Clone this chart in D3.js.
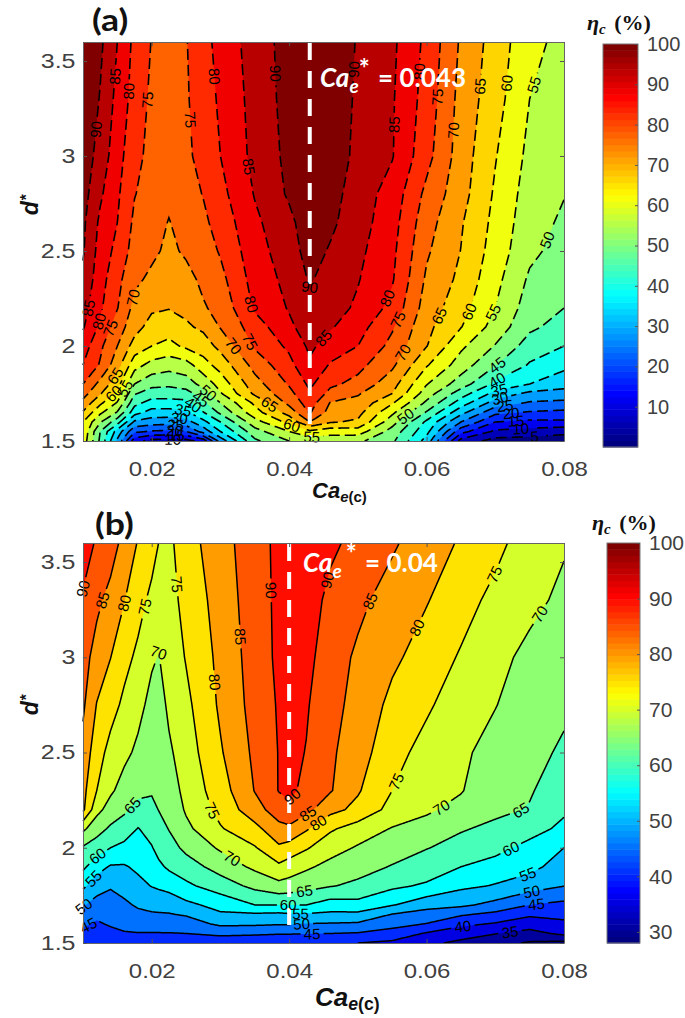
<!DOCTYPE html>
<html>
<head>
<meta charset="utf-8">
<script src="https://cdn.jsdelivr.net/npm/d3@7"></script>
<style>
  body { margin: 0; background: #fff; }
  svg { display: block; }
  text { font-family: "Liberation Sans", Arial, sans-serif; }
</style>
</head>
<body>
<div id="chart"></div>
<script>
// grid of panel (a): one inner array per Ca column, values running up dA
const caA = [.01,.0125,.015,.0175,.02,.0225,.025,.0275,.03,.035,.04,.043,.046,.05,.055,.06,.065,.07,.075,.08];
const dA = [1.5,1.55,1.6,1.65,1.7,1.75,1.8,1.9,2,2.1,2.2,2.35,2.5,2.65,2.8,3,3.3,3.6];
const etaA = [
  [58,59,60,64.5,68.5,72,75,80,82.5,85.5,87,89,90.5,91,92,93,94,95],
  [44,45,50.5,56,61,65.5,68.5,74.5,76,79,80.8,82,83,84,85.8,88,89.7,91],
  [29,33,42,49.5,54.5,58.5,62,67,70,72.5,75.2,76.5,78.5,80,80.8,82,83.5,85],
  [12,21,29,37,41.5,45.5,50,57,63,67,68.5,71,73,74,75.2,76.5,78,78.7],
  [8,19.5,27.5,33,38,42.5,46.6,53.3,60,63,65.8,69,71,72,73,73.5,74,74.8],
  [8,19,27,33,38,42.5,46,52,58.5,62.4,65.2,67,69,69.8,71,71.5,72,72],
  [8,20,28,34,38.5,43,47.5,53,61,64.2,66.3,68.5,70.7,71.8,73,73.8,74.3,74.7],
  [12,27,33.5,39.7,44,47.7,51.7,58,62.5,66,69.5,71,72.5,74,75.2,77,78.2,78.5],
  [27,35,40,46,50,54.5,57,62,66.5,70.3,71.5,73.5,75.5,77,78.5,80,80.6,81.5],
  [44,48,53,58,61,66,68,71.8,75.7,77.5,80.7,82,83,84,85.3,86.4,86.9,87.4],
  [50,55,61.5,67,71.3,73.5,75.5,78.5,81,84,85.4,86.5,87.7,88.7,90.7,91.3,91.8,92],
  [52,59,70,75.5,77.4,79.4,81,84.2,86,87.5,88.6,90.5,92,93,94,95,95,94.5],
  [52,57,65.5,68,69.7,73.5,76,79.5,82.8,85.5,87,88,89.5,91,92,93.5,94,93.5],
  [51,57.5,64.2,66.6,68.5,70.5,73.5,76.5,80,82,84.2,85.3,86.2,87.2,87.5,88.5,89,89.6],
  [46,48,52,56,60.5,65,67,71,73.5,75.6,78.5,80.5,81.2,82,83,85.3,85.5,86],
  [33,36.5,39,44.5,49,52.5,55.3,60.5,65.2,66.3,67.7,69.2,70.7,72,73.7,76.7,78,78.8],
  [8,16.8,25,31.6,37.5,42.4,47.5,52.6,56,60.2,62,63.8,64.9,65.5,66.9,67.6,68.3,69.3],
  [3,9,15,21.3,27.7,33.4,39,45.3,49.7,53,55,56.5,57.8,58.6,59.3,60.3,62,62.8],
  [2.5,8,13.8,19.5,24.4,28.8,35,39.5,42.7,46,47.5,49.2,51.2,52,52.7,53.7,55,56.5],
  [2,6.5,14,18.8,23.5,28.5,31.5,36.5,40,43,45,46.5,48,49.2,50.2,51,52.5,53.5]
];
const levelsA = d3.range(5, 95, 5);

// grid of panel (b)
const caB = [.01,.012,.014,.016,.018,.02,.021,.0225,.025,.03,.035,.0385,.04,.0425,.046,.05,.055,.06,.065,.07,.075,.08];
const dB = [1.5,1.55,1.6,1.65,1.7,1.8,1.9,2,2.1,2.2,2.3,2.5,2.75,3,3.3,3.6];
const etaB = [
  [42,44,45.7,48,50.5,56,61,64.5,71,81,81.5,83.5,85.8,87,89.5,92],
  [43,44,44.5,45.8,48,52.3,57,62.5,67,71.5,75,77,79.8,83,86.2,89.5],
  [43,44,45.4,46.5,47.8,50.5,54.5,60,64.2,68,70.8,73.5,76.8,80.1,83.3,87.5],
  [43,44.7,46,47.5,49,52,54.5,58.5,63,65.7,68,71.2,74,76.5,80.2,83.3],
  [43,44.8,47,48.8,50.7,53.5,56,58,59.8,63.5,66.2,69,71.5,74,76.8,79.7],
  [42.5,44.8,47,49.5,51.3,55.2,57.4,59.7,61.8,63.7,65.5,67,68.5,70.7,73.8,77],
  [42.5,44.8,47,49.6,51.5,55.8,59,61.5,63,65.1,66,66.7,68,69.8,72.2,75],
  [42.5,44.8,47.2,49.7,51.8,56.7,60.8,63,65.2,66.2,67.4,69.2,70.9,72,73,73.8],
  [42.3,45,47.5,50.5,53.8,59,62.7,66.2,68.8,70.6,71.5,72.5,73.8,75.3,76.7,78],
  [42,46,51,54.3,56.7,62.5,67,70.7,74.6,76.5,77.7,79.5,80.8,81.3,82,82.8],
  [42,45.6,50.8,54.3,60,66.3,71,74.6,78.5,83,85.2,86,86.8,87.3,87.8,88.2],
  [41.5,45.3,50.4,54,60,68.5,74,79.2,83.5,87.5,90.2,90.2,90.5,91,91,91],
  [41,45.3,50.4,54.5,60,68,72.6,78,84,89,91,91.5,92,92.5,92.5,92],
  [40,45.3,49.8,54.5,60,66.7,70.8,75.5,80.6,86.5,88.8,89.8,90.5,91.5,92.5,93],
  [40,45,49.6,54,57.7,65.3,68.5,72,75.7,81.5,85.4,85.8,86.5,87.3,88.7,91],
  [40,44.6,49.3,53.8,58.3,64,66.8,69.5,72.8,78.7,80.5,82.3,83.5,84.2,86.2,88.5],
  [39,43,46.7,49.8,55.3,61,64.7,67.2,69.7,73.3,75,76.6,78.7,81,82.9,85.7],
  [36,39.5,44.8,48,51.8,59.3,62.7,65.2,68.3,70.7,71.4,73.4,75.7,77.8,80.3,82.3],
  [34,36.9,41.2,45.6,51,56,60,63.4,65.4,68.6,70.3,71,72.5,74.5,77,79.5],
  [31.5,35.2,39.5,43.7,48.5,54.7,57.5,62,64,66,66.7,68,70.2,71.7,73.6,76.5],
  [29.5,33,37.7,40.7,45,52.3,56.5,58,62.5,64.7,65.4,66,67,68.5,71.6,72.3],
  [28.5,36.3,39,41.3,43.7,50.1,52.6,55,58.5,61,62.5,64.5,65.6,67,68.7,70.6]
];
const levelsB = d3.range(30, 95, 5);

// contour labels as [level, Ca, d]; each one snaps to its nearest contour
const labelsA = [
  [90,.0122,3.137],[85,.0149,3.418],[80,.0167,3.339],[75,.0191,3.295],[75,.0255,3.193],[80,.0292,3.418],
  [85,.0338,2.944],[90,.0379,3.432],[90,.0496,3.453],[85,.0556,3.163],[80,.0598,3.444],[75,.0615,3.312],
  [70,.0638,3.137],[65,.0685,3.365],[60,.0714,3.382],[55,.0755,3.374],[50,.0783,2.547],
  [85,.0115,2.198],[80,.0127,2.128],[75,.0141,2.093],[70,.0175,2.251],[65,.0146,1.847],[60,.0144,1.751],
  [55,.0161,1.777],[50,.0287,1.768],[45,.0275,1.742],[40,.0265,1.716],[35,.0246,1.663],[30,.024,1.62],
  [25,.0235,1.584],[20,.0233,1.558],[15,.0236,1.537],[10,.0231,1.505],[80,.0355,2.225],[75,.0348,2.032],
  [70,.0321,2.005],[65,.0374,1.707],[60,.0403,1.576],[55,.0433,1.505],[90,.0435,2.286],[85,.0454,2.032],
  [80,.0544,2.251],[75,.0564,2.128],[70,.0568,1.961],[65,.0627,2.146],[60,.0663,2.181],[55,.0695,2.181],
  [50,.0573,1.611],[45,.0702,1.9],[40,.0704,1.812],[35,.0707,1.742],[30,.0709,1.681],[25,.0717,1.619],
  [20,.0724,1.575],[15,.0731,1.54],[10,.0738,1.537],[5,.0758,1.514]
];
const labelsB = [
  [90,.0102,3.318],[85,.0129,3.3],[80,.0161,3.283],[75,.019,3.266],[75,.0236,3.38],[70,.0212,3.03],
  [85,.0326,3.108],[80,.0292,2.872],[90,.0365,3.353],[90,.0452,3.406],[85,.052,3.292],[80,.0583,3.161],
  [75,.0702,3.432],[70,.076,3.24],[75,.0559,2.34],[65,.0175,2.209],[60,.0122,1.954],[55,.0115,1.84],
  [50,.0102,1.691],[45,.0107,1.604],[75,.0282,2.182],[70,.0316,1.937],[90,.0413,2.244],[85,.0429,2.174],
  [80,.0445,2.121],[65,.0423,1.761],[60,.0399,1.7],[55,.0416,1.647],[50,.0418,1.595],[45,.0433,1.547],
  [70,.0622,2.209],[65,.0736,2.209],[60,.0719,2.025],[55,.0746,1.875],[50,.0753,1.761],[45,.076,1.709],
  [40,.0653,1.586],[35,.0721,1.56]
];

const xTicks = [.02,.04,.06,.08];
const yTicks = [1.5,2,2.5,3,3.5];
const barTicksA = d3.range(10, 110, 10);
const barTicksB = d3.range(30, 110, 10);

const svg = d3.select("#chart").append("svg").attr("width", 685).attr("height", 1018);

// matlab jet
function jet(t) {
  const c = v => Math.round(255 * Math.max(0, Math.min(1, 1.5 - Math.abs(4 * t - v))));
  return `rgb(${c(3)},${c(2)},${c(1)})`;
}

function drawPanel(p) {
  const x = d3.scaleLinear().domain([.01, .08]).range([83, 564]);
  const y = d3.scaleLinear().domain([1.5, 3.6]).range([p.bottom, p.top]);
  const n = p.ca.length, m = p.d.length;

  // contours puts sample i at i + .5, go back to data through the uneven grid
  const caAt = d3.scaleLinear().domain(p.ca.map((_, i) => i + .5)).range(p.ca).clamp(true);
  const dAt = d3.scaleLinear().domain(p.d.map((_, j) => j + .5)).range(p.d).clamp(true);
  const toPx = pt => [x(caAt(pt[0])), y(dAt(pt[1]))];

  const flat = [];
  for (let j = 0; j < m; j++) for (let i = 0; i < n; i++) flat.push(p.eta[i][j]);
  const contours = d3.contours().size([n, m]).thresholds(p.levels)(flat);

  const path = d3.geoPath(d3.geoTransform({
    point(a, b) { const q = toPx([a, b]); this.stream.point(q[0], q[1]); }
  }));

  const g = svg.append("g");
  g.append("rect").attr("x", x(.01)).attr("y", p.top).attr("width", x(.08) - x(.01))
    .attr("height", p.bottom - p.top).attr("fill", p.fill(p.levels[0] - 5));
  g.selectAll("path.band").data(contours).join("path").attr("class", "band")
    .attr("d", path).attr("fill", d => p.fill(d.value)).attr("fill-rule", "evenodd");

  // contour polylines without the stretches that run along the frame
  const onFrame = (a, b) => {
    const e = .01;
    return (Math.abs(a[0] - x(.01)) < e && Math.abs(b[0] - x(.01)) < e) ||
      (Math.abs(a[0] - x(.08)) < e && Math.abs(b[0] - x(.08)) < e) ||
      (Math.abs(a[1] - p.top) < e && Math.abs(b[1] - p.top) < e) ||
      (Math.abs(a[1] - p.bottom) < e && Math.abs(b[1] - p.bottom) < e);
  };
  const lineSets = new Map();
  contours.forEach(c => {
    const lines = [];
    c.coordinates.forEach(poly => poly.forEach(ring => {
      let cur = [];
      ring.map(toPx).forEach((pt, i, arr) => {
        if (i > 0 && onFrame(arr[i - 1], pt)) {
          if (cur.length > 1) lines.push(cur);
          cur = [pt];
        } else cur.push(pt);
      });
      if (cur.length > 1) lines.push(cur);
    }));
    // chop into 1px steps so the label gaps can be cut anywhere
    lineSets.set(c.value, lines.map(l => {
      const out = [l[0]];
      for (let i = 1; i < l.length; i++) {
        const dx = l[i][0] - l[i - 1][0], dy = l[i][1] - l[i - 1][1];
        const k = Math.max(1, Math.ceil(Math.hypot(dx, dy)));
        for (let s = 1; s <= k; s++) out.push([l[i - 1][0] + dx * s / k, l[i - 1][1] + dy * s / k]);
      }
      return out;
    }));
  });

  // snap labels to their contour
  const placed = p.labels.map(([v, ca, dv]) => {
    const tx = x(ca), ty = y(dv);
    let best = null, bd = Infinity;
    (lineSets.get(v) || []).forEach(l => l.forEach((q, i) => {
      const dist = Math.hypot(q[0] - tx, q[1] - ty);
      if (dist < bd) { bd = dist; best = { l, i }; }
    }));
    if (!best || bd > 14) return { v, x: tx, y: ty, angle: 0, cut: false };
    const a = best.l[Math.max(0, best.i - 7)], b = best.l[Math.min(best.l.length - 1, best.i + 7)];
    let angle = Math.atan2(b[1] - a[1], b[0] - a[0]) * 180 / Math.PI;
    if (angle > 90) angle -= 180;
    if (angle < -90) angle += 180;
    return { v, x: best.l[best.i][0], y: best.l[best.i][1], angle, cut: true };
  });

  const drawLine = d3.line();
  lineSets.forEach((lines, v) => {
    const cuts = placed.filter(q => q.v === v && q.cut);
    lines.forEach(l => {
      let cur = [];
      const parts = [];
      l.forEach(q => {
        if (cuts.some(c => Math.hypot(c.x - q[0], c.y - q[1]) < 11)) {
          if (cur.length > 1) parts.push(cur);
          cur = [];
        } else cur.push(q);
      });
      if (cur.length > 1) parts.push(cur);
      parts.forEach(part => {
        g.append("path").attr("d", drawLine(part)).attr("fill", "none")
          .attr("stroke", "#000").attr("stroke-width", p.lineWidth)
          .attr("stroke-dasharray", p.dash);
      });
    });
  });

  // optimum line
  g.append("line").attr("x1", x(p.best)).attr("x2", x(p.best))
    .attr("y1", p.top + 1).attr("y2", p.bestEnd)
    .attr("stroke", "#fff").attr("stroke-width", 4).attr("stroke-dasharray", "17 11");

  g.selectAll("text.lab").data(placed).join("text").attr("class", "lab")
    .attr("transform", d => `translate(${d.x},${d.y}) rotate(${d.angle})`)
    .attr("text-anchor", "middle").attr("dy", "0.36em")
    .attr("font-size", 15).attr("fill", "#000").text(d => d.v);

  // frame and ticks
  const styleAxis = a => {
    a.selectAll("path").attr("stroke", "#666");
    a.selectAll("line").attr("stroke", "#555");
    a.selectAll("text").attr("fill", "#404040").attr("font-size", 20);
  };
  const fmtX = d3.format(".2f");
  svg.append("g").attr("transform", `translate(0,${p.bottom})`)
    .call(d3.axisBottom(x).tickValues(xTicks).tickFormat(fmtX).tickSizeInner(-4).tickSizeOuter(0).tickPadding(21))
    .call(styleAxis).call(a => a.selectAll("text").attr("transform", "scale(1.2,1)"));
  svg.append("g").attr("transform", `translate(0,${p.top})`)
    .call(d3.axisTop(x).tickValues(xTicks).tickFormat("").tickSizeInner(-4).tickSizeOuter(0)).call(styleAxis);
  svg.append("g").attr("transform", "translate(83,0)")
    .call(d3.axisLeft(y).tickValues(yTicks).tickFormat(d3.format("~g")).tickSizeInner(-4).tickSizeOuter(0).tickPadding(6))
    .call(styleAxis).call(a => a.selectAll("text").attr("transform", "scale(1.25,1)"));
  svg.append("g").attr("transform", "translate(564,0)")
    .call(d3.axisRight(y).tickValues(yTicks).tickFormat("").tickSizeInner(-4).tickSizeOuter(0)).call(styleAxis);

  // colour bar
  const bar = d3.scaleLinear().domain(p.barDomain).range([p.barBottom, p.barTop]);
  const steps = d3.range(64);
  const stepV = (p.barDomain[1] - p.barDomain[0]) / 64;
  svg.append("g").selectAll("rect").data(steps).join("rect")
    .attr("x", p.barX).attr("width", p.barW)
    .attr("y", i => bar(p.barDomain[0] + (i + 1) * stepV))
    .attr("height", i => bar(p.barDomain[0] + i * stepV) - bar(p.barDomain[0] + (i + 1) * stepV) + .5)
    .attr("fill", i => jet(i / 63));
  svg.append("rect").attr("x", p.barX).attr("y", p.barTop).attr("width", p.barW)
    .attr("height", p.barBottom - p.barTop).attr("fill", "none").attr("stroke", "#777");
  svg.append("g").attr("transform", `translate(${p.barX + p.barW},0)`)
    .call(d3.axisRight(bar).tickValues(p.barTicks).tickSizeInner(-3).tickSizeOuter(0).tickPadding(9))
    .call(styleAxis)
    .call(a => a.selectAll("text").attr("font-size", p.barFont))
    .call(a => a.select("path").remove());

  // panel tag
  svg.append("text").attr("transform", `translate(${p.tagX},${p.tagY}) scale(1.15,1)`).attr("font-size", 31)
    .attr("font-weight", 700).style("font-family", "Lato, sans-serif").attr("fill", "#111").text(p.tag);

  // Ca_e* note
  const note = svg.append("text").attr("x", p.noteX).attr("y", p.noteY).attr("fill", "#fff")
    .style("font-family", "Lato, sans-serif").attr("font-weight", 700).attr("font-size", 26);
  note.append("tspan").attr("font-style", "italic").text("Ca");
  note.append("tspan").attr("font-style", "italic").attr("font-size", 19).attr("dy", 6).text("e");
  note.append("tspan").attr("dy", -15).attr("dx", p.noteGap).text("*");
  note.append("tspan").attr("dy", 9).attr("dx", 2).text(" = " + p.best);

  // axis titles
  const xl = svg.append("text").attr("x", p.xlX).attr("y", p.xlY).attr("fill", "#111")
    .attr("font-weight", 700).attr("font-size", p.xlSize);
  xl.append("tspan").attr("font-style", "italic").text("Ca");
  xl.append("tspan").attr("font-style", "italic").attr("font-size", p.xlSize * .68).attr("dy", 4).text("e");
  xl.append("tspan").attr("font-size", p.xlSize * .68).text("(c)");
  const yl = svg.append("text").attr("transform", `translate(${p.ylX},${p.ylY}) rotate(-90)`)
    .attr("text-anchor", "middle").attr("fill", "#111").attr("font-weight", 700).attr("font-style", "italic").attr("font-size", 23);
  yl.append("tspan").text("d");
  yl.append("tspan").attr("font-size", 16).attr("dy", -6).text("*");

  // colour bar title
  const bt = svg.append("text").attr("x", p.btX).attr("y", p.btY).attr("fill", "#111")
    .style("font-family", "'Liberation Serif', serif").attr("font-weight", 700).attr("font-size", 22);
  bt.append("tspan").attr("font-style", "italic").text("η");
  bt.append("tspan").attr("font-style", "italic").attr("font-size", 15).attr("dy", 4).text("c");
  bt.append("tspan").attr("dy", -4).attr("dx", 3).text(" (%)");
}

drawPanel({
  ca: caA, d: dA, eta: etaA, levels: levelsA, labels: labelsA,
  top: 42, bottom: 441, best: 0.043, bestEnd: 437,
  fill: v => jet(Math.max(0, v) / 90), lineWidth: 1.6, dash: "11 5",
  barDomain: [0, 100], barTicks: barTicksA, barX: 603, barW: 35, barTop: 44, barBottom: 447, barFont: 20,
  tag: "(a)", tagX: 92, tagY: 31, noteX: 320, noteY: 87, noteGap: 0,
  xlX: 312, xlY: 498, xlSize: 22, ylX: 38, ylY: 205, btX: 587, btY: 30
});
drawPanel({
  ca: caB, d: dB, eta: etaB, levels: levelsB, labels: labelsB,
  top: 543, bottom: 943, best: 0.04, bestEnd: 933,
  fill: v => jet(Math.max(0, v - 28) / 72), lineWidth: 1.5, dash: null,
  barDomain: [28, 100], barTicks: barTicksB, barX: 607, barW: 33, barTop: 543, barBottom: 943, barFont: 21,
  tag: "(b)", tagX: 95, tagY: 535, noteX: 303, noteY: 572, noteGap: 4,
  xlX: 315, xlY: 1006, xlSize: 26, ylX: 38, ylY: 705, btX: 592, btY: 530
});
</script>
</body>
</html>
